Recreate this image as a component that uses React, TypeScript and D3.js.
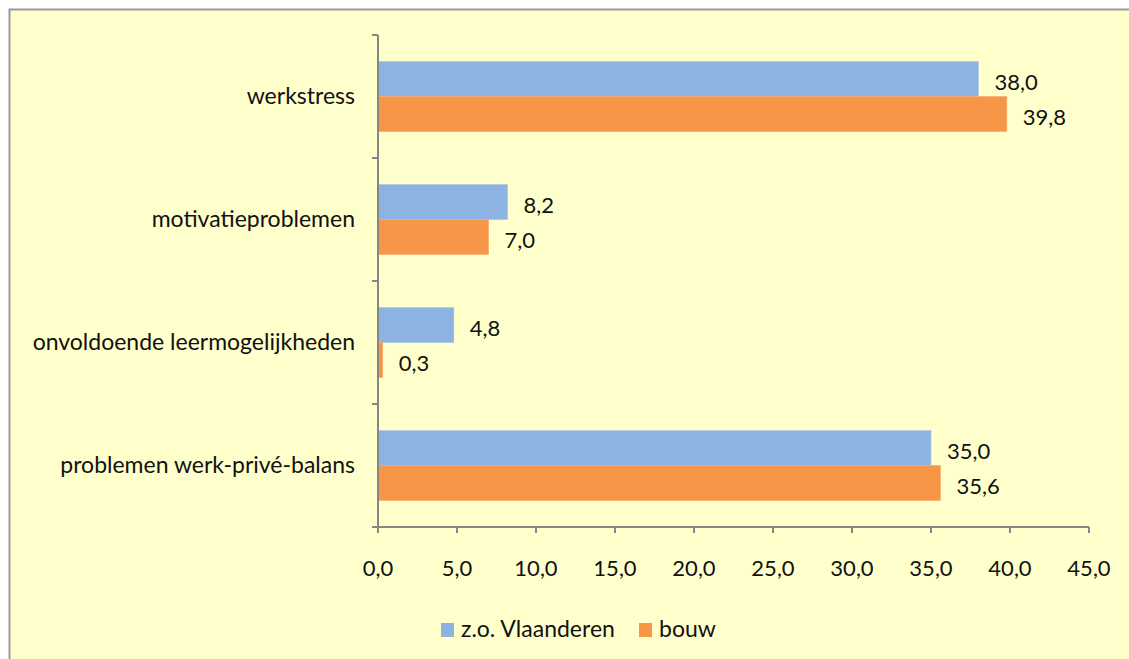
import * as d3 from "d3";
import { useEffect, useRef } from "react";

// categories top to bottom
const categories = [
  "werkstress",
  "motivatieproblemen",
  "onvoldoende leermogelijkheden",
  "problemen werk-privé-balans",
];
const seriesNames = ["z.o. Vlaanderen", "bouw"];
const vlaanderen = [38.0, 8.2, 4.8, 35.0];
const bouw = [39.8, 7.0, 0.3, 35.6];
const xTicks = [0, 5, 10, 15, 20, 25, 30, 35, 40, 45];

const colors = ["#8DB3E2", "#F79646"];
const FONT = "Lato, 'Liberation Sans', sans-serif";

const W = 1129;
const H = 659;

const draw = (el: SVGSVGElement) => {
  const svg = d3.select(el);
  svg.selectAll("*").remove();

  // chart background + frame
  svg.append("rect").attr("x", 0).attr("y", 0).attr("width", W).attr("height", H).attr("fill", "#fff");
  svg.append("rect")
    .attr("x", 9.5).attr("y", 9.5)
    .attr("width", W + 20).attr("height", H + 20)
    .attr("fill", "#FFFFCC")
    .attr("stroke", "#9a9a9a")
    .attr("stroke-width", 2);

  const plot = { x1: 378, x2: 1089, y1: 35, y2: 527 };

  const x = d3.scaleLinear().domain([0, 45]).range([plot.x1, plot.x2]);
  const y = d3.scaleBand().domain(categories).range([plot.y1, plot.y2]);
  const inner = d3.scaleBand().domain(seriesNames).range([0, y.bandwidth()]).paddingInner(0).paddingOuter(0.76);

  const series = [vlaanderen, bouw];

  series.forEach((vals, si) => {
    const g = svg.append("g");
    g.selectAll("rect")
      .data(vals)
      .join("rect")
      .attr("x", x(0))
      .attr("y", (_, i) => (y(categories[i]) ?? 0) + (inner(seriesNames[si]) ?? 0))
      .attr("width", (d) => x(d) - x(0))
      .attr("height", inner.bandwidth())
      .attr("fill", colors[si])
      .attr("stroke", si === 0 ? "#a9c4e8" : "#f9a86e")
      .attr("stroke-width", 0.6);

    g.selectAll("text")
      .data(vals)
      .join("text")
      .attr("x", (d) => x(d) + 16)
      .attr("y", (_, i) => (y(categories[i]) ?? 0) + (inner(seriesNames[si]) ?? 0) + inner.bandwidth() / 2 + 5)
      .attr("dominant-baseline", "middle")
      .attr("font-family", FONT)
      .attr("font-size", 22)
      .attr("fill", "#111")
      .text((d) => d.toFixed(1).replace(".", ","));
  });

  const axisColor = "#868686";

  // y axis with ticks between categories
  const yAxis = svg.append("g");
  yAxis.append("line")
    .attr("x1", plot.x1).attr("x2", plot.x1)
    .attr("y1", plot.y1).attr("y2", plot.y2)
    .attr("stroke", axisColor).attr("stroke-width", 2);
  const yTickPos = [plot.y1, ...categories.map((c) => (y(c) ?? 0) + y.bandwidth())];
  yAxis.selectAll("line.tick")
    .data(yTickPos)
    .join("line")
    .attr("class", "tick")
    .attr("x1", plot.x1 - 6).attr("x2", plot.x1)
    .attr("y1", (d) => d).attr("y2", (d) => d)
    .attr("stroke", axisColor).attr("stroke-width", 2);
  yAxis.selectAll("text")
    .data(categories)
    .join("text")
    .attr("x", 355)
    .attr("y", (d) => (y(d) ?? 0) + y.bandwidth() / 2 + 2)
    .attr("text-anchor", "end")
    .attr("dominant-baseline", "middle")
    .attr("font-family", FONT)
    .attr("font-size", 23)
    .attr("fill", "#111")
    .text((d) => d);

  // x axis
  const xAxis = svg.append("g");
  xAxis.append("line")
    .attr("x1", plot.x1 - 6).attr("x2", plot.x2)
    .attr("y1", plot.y2).attr("y2", plot.y2)
    .attr("stroke", axisColor).attr("stroke-width", 2);
  xAxis.selectAll("line.tick")
    .data(xTicks)
    .join("line")
    .attr("class", "tick")
    .attr("x1", (d) => x(d)).attr("x2", (d) => x(d))
    .attr("y1", plot.y2).attr("y2", plot.y2 + 6)
    .attr("stroke", axisColor).attr("stroke-width", 2);
  xAxis.selectAll("text")
    .data(xTicks)
    .join("text")
    .attr("x", (d) => x(d))
    .attr("y", 570)
    .attr("text-anchor", "middle")
    .attr("dominant-baseline", "middle")
    .attr("font-family", FONT)
    .attr("font-size", 22)
    .attr("fill", "#111")
    .text((d) => d.toFixed(1).replace(".", ","));

  // legend
  const legendX = [441, 639];
  const legend = svg.append("g");
  seriesNames.forEach((name, i) => {
    legend.append("rect")
      .attr("x", legendX[i]).attr("y", 623)
      .attr("width", 13).attr("height", 14)
      .attr("fill", colors[i]);
    legend.append("text")
      .attr("x", legendX[i] + 20).attr("y", 631)
      .attr("dominant-baseline", "middle")
      .attr("font-family", FONT)
      .attr("font-size", 23)
      .attr("fill", "#111")
      .text(name);
  });
};

export default function App() {
  const ref = useRef<SVGSVGElement>(null);

  useEffect(() => {
    if (ref.current) draw(ref.current);
  }, []);

  return (
    <svg
      ref={ref}
      width={W}
      height={H}
      style={{ position: "absolute", left: 0, top: 0, display: "block" }}
    />
  );
}
